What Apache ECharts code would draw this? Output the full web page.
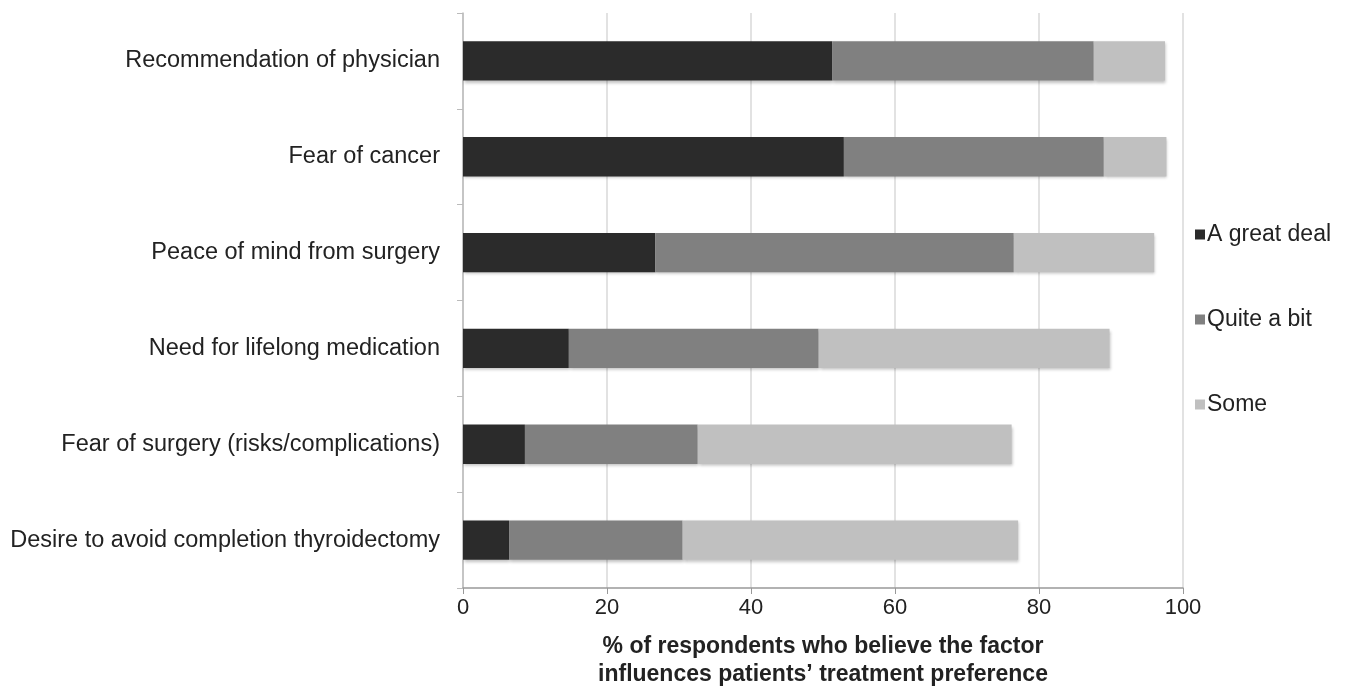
<!DOCTYPE html>
<html>
<head>
<meta charset="utf-8">
<script src="https://cdn.jsdelivr.net/npm/echarts@6/dist/echarts.min.js"></script>
<style>
  html, body { margin: 0; padding: 0; background: #fff; }
  #chartArea { width: 1354px; height: 694px; }
</style>
</head>
<body>
<div id="chartArea"></div>
<script>
// factors, top to bottom
const factors = [
  'Recommendation of physician',
  'Fear of cancer',
  'Peace of mind from surgery',
  'Need for lifelong medication',
  'Fear of surgery (risks/complications)',
  'Desire to avoid completion thyroidectomy'
];
// % of respondents per answer
const greatDeal = [51.3, 52.9, 26.7, 14.7, 8.6, 6.4];
const quiteBit = [36.3, 36.1, 49.8, 34.7, 24.0, 24.1];
const some = [9.9, 8.7, 19.5, 40.4, 43.6, 46.6];
const xTicks = [0, 20, 40, 60, 80, 100];

const chartDom = document.getElementById('chartArea');
let myChart = echarts.init(chartDom);
let option;

const font = 'Liberation Sans, Arial, sans-serif';

function barSeries(name, data, color) {
  return {
    name: name,
    type: 'bar',
    stack: 'total',
    barWidth: '41%',
    data: data,
    itemStyle: {
      color: color,
      shadowBlur: 3,
      shadowOffsetX: 1,
      shadowOffsetY: 2,
      shadowColor: 'rgba(0,0,0,0.25)'
    }
  };
}

option = {
  animation: false,
  textStyle: { fontFamily: font },
  grid: { left: 463, right: 171, top: 13, bottom: 102 },
  legend: {
    orient: 'vertical',
    left: 1190,
    top: 218,
    itemGap: 62,
    itemWidth: 10,
    itemHeight: 10,
    icon: 'rect',
    textStyle: { fontSize: 23, color: '#222', fontFamily: font, padding: [0, 0, 0, -3] },
    data: ['A great deal', 'Quite a bit', 'Some']
  },
  xAxis: {
    type: 'value',
    min: xTicks[0],
    max: xTicks[xTicks.length - 1],
    interval: 20,
    name: '% of respondents who believe the factor\ninfluences patients\u2019 treatment preference',
    nameLocation: 'middle',
    nameGap: 45,
    nameTextStyle: { fontSize: 23, fontWeight: 'bold', color: '#222', lineHeight: 28, fontFamily: font },
    axisLine: { show: true, lineStyle: { color: '#999', width: 1.5 } },
    axisTick: { show: true, length: 6, lineStyle: { color: '#999' } },
    axisLabel: { fontSize: 22, color: '#222', margin: 9 },
    splitLine: { show: true, lineStyle: { color: '#d9d9d9', width: 1.5 } }
  },
  yAxis: {
    type: 'category',
    inverse: true,
    data: factors,
    axisLine: { show: true, lineStyle: { color: '#bbb', width: 1.5 } },
    axisTick: { show: true, length: 6, lineStyle: { color: '#bbb' } },
    axisLabel: { fontSize: 23.5, color: '#222', margin: 23 }
  },
  series: [
    barSeries('A great deal', greatDeal, '#2b2b2b'),
    barSeries('Quite a bit', quiteBit, '#808080'),
    barSeries('Some', some, '#c0c0c0')
  ]
};

option && myChart.setOption(option);
</script>
</body>
</html>
